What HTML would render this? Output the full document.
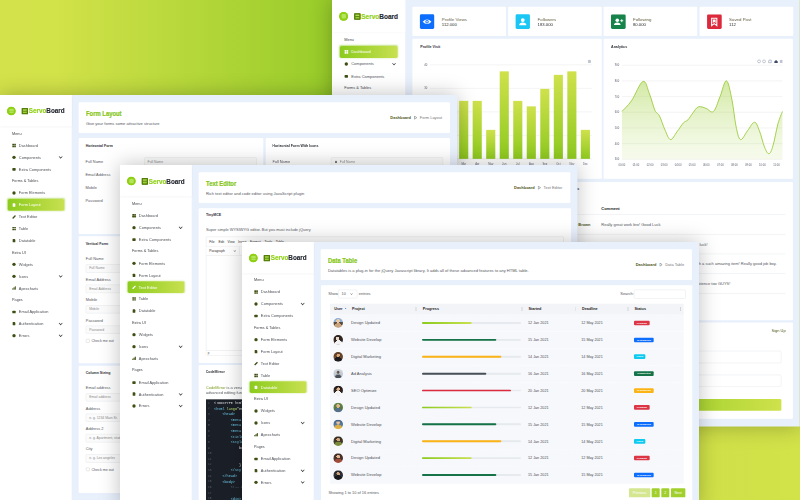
<!DOCTYPE html>
<html lang="en"><head><meta charset="utf-8"><title>ServoBoard</title>
<style>
*{box-sizing:border-box;margin:0;padding:0}
html,body{width:800px;height:500px;overflow:hidden;font-family:"Liberation Sans",sans-serif}
body{position:relative;font-family:"Liberation Sans",sans-serif;color:#2f2f2f;
 background:linear-gradient(90deg,#d3e24a 0%,#d2e249 7%,#98cc2a 41%,#94ca27 55%,#cfe048 87%,#d2e249 100%)}
.pn{position:absolute;transform:scale(0.333333);transform-origin:0 0;background:#e8f0fc;overflow:hidden;
 box-shadow:0 0 58px rgba(0,0,0,.25);font-size:11.7px}
.sb{position:absolute;left:0;top:0;width:215px;bottom:0;background:#fff}
.sbh{position:absolute;left:0;top:0;width:215px;height:94px;background:#fff;box-shadow:0 2px 6px rgba(0,0,0,.05)}
.tog{position:absolute;left:21.4px;top:34.5px;width:26px;height:26px;border-radius:50%;background:#8fd014;
 box-shadow:inset 0 0 0 3px #8fd014}
.tog:before{content:"";position:absolute;left:6.5px;top:6.5px;width:13px;height:13px;border-radius:3px;
 background:repeating-linear-gradient(180deg,#b4e45e 0 3.3px,#a2da3c 3.3px 4.4px)}
.lgi{position:absolute;left:65px;top:38.5px;width:19px;height:19.5px;border-radius:2px;background:#5d8a10;
 box-shadow:inset 0 0 0 2.5px #4f7a0c}
.lgi:before{content:"";position:absolute;left:4px;top:4px;width:11px;height:4px;background:#b5dc50}
.lgi:after{content:"";position:absolute;left:4px;top:11px;width:11px;height:4.5px;background:#9fd032}
.lgt{position:absolute;left:85.5px;top:34px;height:28px;line-height:28px;font-size:22.4px;font-weight:bold;color:#23262e;-webkit-text-stroke:.45px;white-space:nowrap;transform:scaleX(.85);transform-origin:0 50%}
.lgt b{color:#8fd014}
.mn{position:absolute;left:0;top:96.6px;width:215px}
.mn div{position:relative;height:35.7px;line-height:35.7px;white-space:nowrap;color:#505258;font-size:11.7px}
.mn .lab{padding-left:36px;color:#44464c;font-size:11.4px}
.mn .it{padding-left:56.5px}
.mn .it i{position:absolute;left:37px;top:12.8px;width:10px;height:10px;background:#3e4f14;border-radius:2px}
.mn .it i.c{border-radius:50%}
.mn .it i.g{background:none;border-radius:0}
.mn .it i.g:before{content:"";position:absolute;left:0;top:0;width:4.5px;height:4.5px;border-radius:.8px;background:#3e4f14;box-shadow:5.6px 0 0 #3e4f14,0 5.6px 0 #3e4f14,5.6px 5.6px 0 #3e4f14}
.mn .it i.b{height:8px;top:14.5px;border-radius:2px}
.mn .it i.d{width:8px;left:38px;border-radius:1.5px 3px 1.5px 1.5px}
.mn .it i.p{background:none;border-radius:0}
.mn .it i.p:before{content:"";position:absolute;left:-1px;top:3.5px;width:12px;height:3.5px;background:#3e4f14;transform:rotate(-45deg);border-radius:1px}
.mn .it i.h{background:none;border-radius:0}
.mn .it i.h:before{content:"";position:absolute;left:0;bottom:0;width:2.5px;height:4px;background:#3e4f14;box-shadow:3.7px -3px 0 #3e4f14,3.7px 0 0 #3e4f14,7.4px -6px 0 #3e4f14,7.4px -3px 0 #3e4f14,7.4px 0 0 #3e4f14}
.mn .ch:after{content:"";position:absolute;left:178px;top:12px;width:6px;height:6px;border-right:2px solid #333;border-bottom:2px solid #333;transform:rotate(45deg)}
.mn .act{color:#fff}
.mn .act:before{content:"";position:absolute;left:22.5px;top:0.4px;width:170.5px;height:34.9px;border-radius:5px;
 background:linear-gradient(90deg,#8ccb1e,#c8e050);box-shadow:0 0 5px rgba(140,203,30,.55);z-index:0}
.mn .act span,.mn .act i{z-index:1}
.mn .act span{position:relative}
.mn .act i{background:#fff !important}
.mn .act i.p:before,.mn .act i.h:before{background:#fff}
.mn .act i.g{background:none !important}
.mn .act i.g:before{background:#fff;box-shadow:5.6px 0 0 #fff,0 5.6px 0 #fff,5.6px 5.6px 0 #fff}
.mn .act i.p,.mn .act i.h{background:none !important}
.mc{position:absolute;left:215px;top:0;right:0;bottom:0}
.cd{position:absolute;background:#fff;border-radius:3px}
.ttl{position:absolute;font-weight:bold;color:#86c718;-webkit-text-stroke:.7px #86c718;font-size:22.3px;line-height:30px;white-space:nowrap;transform:scaleX(.79);transform-origin:0 50%;letter-spacing:0}
.sub{position:absolute;font-size:12.1px;line-height:16px;color:#55575d;white-space:nowrap}
.bc{position:absolute;font-size:11.9px;line-height:16px;white-space:nowrap;color:#777;text-align:right}
.bc b{color:#4b5516}
.bc u{text-decoration:none;display:inline-block;width:0;height:0;border-left:7.5px solid #7d7d7d;border-top:4.6px solid transparent;border-bottom:4.6px solid transparent;margin:0 8.5px 0 9px;position:relative;top:1px}
.h4{position:absolute;font-weight:bold;font-size:12.4px;line-height:16px;color:#2e3036;white-space:nowrap;transform:scaleX(.86);transform-origin:0 50%}
.t{position:absolute;white-space:nowrap;line-height:16px;font-size:11.7px;color:#55575d}
.tt{position:absolute;white-space:nowrap;line-height:16px;font-size:11.2px;color:#4c4e54}
.in{position:absolute;border:1px solid #dadde2;border-radius:3.5px;background:#fbfbfc;font-size:10.2px;color:#8b8b8b;line-height:22px;padding-left:9px;white-space:nowrap;overflow:hidden}
.cb{position:absolute;width:10.5px;height:10.5px;border:1px solid #bdbdbd;border-radius:2.5px;background:#fff}
</style></head>
<body>
<div class="pn" style="left:332.4px;top:0px;width:1372.6px;height:1251.96px;z-index:1;transform:scale(0.34067);"><div class="cd" style="left:235.86px;top:20.25px;width:274.76px;height:86.15px;"></div><div style="position:absolute;left:257.88px;top:42.27px;width:42.56px;height:42.56px;background:#0d6efd;border-radius:4px"></div><svg style="position:absolute;left:279.16px;top:63.55px;overflow:visible" width="2.9354" height="2.9354" viewBox="0 0 1 1"><g><path d="M-4.4,0 Q0,-4.6 4.4,0 Q0,4.6 -4.4,0Z" fill="#fff"/><circle r="1.7" fill="#0d6efd"/><circle r=".8" fill="#fff"/></g></svg><div class="t" style="left:322.46px;top:49.5342px;font-size:12.8px;color:#5f5a3c">Profile Views</div><div class="t" style="left:322.46px;top:63.9178px;font-size:12.4px;color:#2a2a2a">112.000</div><div class="cd" style="left:516.93px;top:20.25px;width:274.76px;height:86.15px;"></div><div style="position:absolute;left:538.94px;top:42.27px;width:42.56px;height:42.56px;background:#1ac6f4;border-radius:4px"></div><svg style="position:absolute;left:560.23px;top:63.55px;overflow:visible" width="2.9354" height="2.9354" viewBox="0 0 1 1"><g><circle cy="-1.7" r="1.9" fill="#fff"/><path d="M-3.6,3.4 Q-3.6,0.6 0,0.6 Q3.6,0.6 3.6,3.4Z" fill="#fff"/></g></svg><div class="t" style="left:603.52px;top:49.5342px;font-size:12.8px;color:#5f5a3c">Followers</div><div class="t" style="left:603.52px;top:63.9178px;font-size:12.4px;color:#2a2a2a">183.000</div><div class="cd" style="left:796.97px;top:20.25px;width:274.76px;height:86.15px;"></div><div style="position:absolute;left:818.98px;top:42.27px;width:42.56px;height:42.56px;background:#15834a;border-radius:4px"></div><svg style="position:absolute;left:840.26px;top:63.55px;overflow:visible" width="2.9354" height="2.9354" viewBox="0 0 1 1"><g><circle cx="-0.9" cy="-1.5" r="1.8" fill="#fff"/><path d="M-4.2,3.2 Q-4.2,0.6 -0.9,0.6 Q2.4,0.6 2.4,3.2Z" fill="#fff"/><path d="M3.6,-2.6v3M2.1,-1.1h3" stroke="#fff" stroke-width=".9" fill="none"/></g></svg><div class="t" style="left:883.56px;top:49.5342px;font-size:12.8px;color:#5f5a3c">Following</div><div class="t" style="left:883.56px;top:63.9178px;font-size:12.4px;color:#2a2a2a">80.000</div><div class="cd" style="left:1079.06px;top:20.25px;width:274.76px;height:86.15px;"></div><div style="position:absolute;left:1101.08px;top:42.27px;width:42.56px;height:42.56px;background:#dc2a3c;border-radius:4px"></div><svg style="position:absolute;left:1122.36px;top:63.55px;overflow:visible" width="2.9354" height="2.9354" viewBox="0 0 1 1"><g><path d="M-2.6,-3.6h5.2v7.4l-2.6,-2l-2.6,2Z" fill="none" stroke="#fff" stroke-width="1.1"/><path d="M-1.4,-2.4h2.8v3.6l-1.4,-1l-1.4,1Z" fill="#fff"/></g></svg><div class="t" style="left:1165.66px;top:49.5342px;font-size:12.8px;color:#5f5a3c">Saved Post</div><div class="t" style="left:1165.66px;top:63.9178px;font-size:12.4px;color:#2a2a2a">112</div><div class="cd" style="left:235.86px;top:114.48px;width:556.41px;height:410.96px;"></div><div class="cd" style="left:796.97px;top:114.48px;width:555.97px;height:410.96px;"></div><div class="h4" style="left:258.61px;top:128.791px;">Profile Visit</div><div class="h4" style="left:819.28px;top:128.791px;">Analytics</div><svg style="position:absolute;left:198.43px;top:117.42px;font-family:'Liberation Sans',sans-serif" width="1174.17" height="410.96" viewBox="400 40 400 140"><defs><linearGradient id="bg" x1="0" y1="0" x2="0" y2="1"><stop offset="0" stop-color="#cfe14c"/><stop offset="1" stop-color="#8ec91f"/></linearGradient><linearGradient id="ag" x1="0" y1="0" x2="0" y2="1"><stop offset="0" stop-color="#9fd03a" stop-opacity=".46"/><stop offset="1" stop-color="#c9e48e" stop-opacity=".16"/></linearGradient></defs><path d="M430.5,65 H592.5" stroke="#e7e7e7" stroke-width=".45"/><path d="M430.5,88.5 H592.5" stroke="#e7e7e7" stroke-width=".45"/><path d="M430.5,112 H592.5" stroke="#e7e7e7" stroke-width=".45"/><path d="M430.5,135.5 H592.5" stroke="#e7e7e7" stroke-width=".45"/><path d="M430.5,159 H592.5" stroke="#dcdcdc" stroke-width=".4"/><rect x="432.66" y="112" width="9.1" height="47" fill="url(#bg)"/><text x="437.21" y="165" font-size="2.7" fill="#5c6370" text-anchor="middle">Jan</text><rect x="446.18" y="118" width="9.1" height="41" fill="url(#bg)"/><text x="450.73" y="165" font-size="2.7" fill="#5c6370" text-anchor="middle">Feb</text><rect x="459.70" y="101" width="9.1" height="58" fill="url(#bg)"/><text x="464.25" y="165" font-size="2.7" fill="#5c6370" text-anchor="middle">Mar</text><rect x="473.22" y="101" width="9.1" height="58" fill="url(#bg)"/><text x="477.77" y="165" font-size="2.7" fill="#5c6370" text-anchor="middle">Apr</text><rect x="486.74" y="130" width="9.1" height="29" fill="url(#bg)"/><text x="491.29" y="165" font-size="2.7" fill="#5c6370" text-anchor="middle">May</text><rect x="500.26" y="71.5" width="9.1" height="87.5" fill="url(#bg)"/><text x="504.81" y="165" font-size="2.7" fill="#5c6370" text-anchor="middle">Jun</text><rect x="513.78" y="101" width="9.1" height="58" fill="url(#bg)"/><text x="518.33" y="165" font-size="2.7" fill="#5c6370" text-anchor="middle">Jul</text><rect x="527.30" y="106.5" width="9.1" height="52.5" fill="url(#bg)"/><text x="531.85" y="165" font-size="2.7" fill="#5c6370" text-anchor="middle">Aug</text><rect x="540.82" y="89" width="9.1" height="70" fill="url(#bg)"/><text x="545.37" y="165" font-size="2.7" fill="#5c6370" text-anchor="middle">Sep</text><rect x="554.34" y="75" width="9.1" height="84" fill="url(#bg)"/><text x="558.89" y="165" font-size="2.7" fill="#5c6370" text-anchor="middle">Oct</text><rect x="567.86" y="71.5" width="9.1" height="87.5" fill="url(#bg)"/><text x="572.41" y="165" font-size="2.7" fill="#5c6370" text-anchor="middle">Nov</text><rect x="581.38" y="130" width="9.1" height="29" fill="url(#bg)"/><text x="585.93" y="165" font-size="2.7" fill="#5c6370" text-anchor="middle">Dec</text><text x="427.8" y="65.9" font-size="2.8" fill="#5c6370" text-anchor="end">40</text><text x="427.8" y="89.4" font-size="2.8" fill="#5c6370" text-anchor="end">30</text><text x="427.8" y="112.9" font-size="2.8" fill="#5c6370" text-anchor="end">20</text><text x="427.8" y="136.4" font-size="2.8" fill="#5c6370" text-anchor="end">10</text><text x="427.8" y="159.9" font-size="2.8" fill="#5c6370" text-anchor="end">0</text><path d="M588.6,60.6h2.8M588.6,61.6h2.8M588.6,62.6h2.8" stroke="#6e7c96" stroke-width=".45"/><path d="M622.5,65.40 H783" stroke="#e7e7e7" stroke-width=".45"/><text x="619.8" y="66.30" font-size="2.7" fill="#5c6370" text-anchor="end">900</text><path d="M622.5,81.08 H783" stroke="#e7e7e7" stroke-width=".45"/><text x="619.8" y="81.98" font-size="2.7" fill="#5c6370" text-anchor="end">800</text><path d="M622.5,96.76 H783" stroke="#e7e7e7" stroke-width=".45"/><text x="619.8" y="97.66" font-size="2.7" fill="#5c6370" text-anchor="end">700</text><path d="M622.5,112.44 H783" stroke="#e7e7e7" stroke-width=".45"/><text x="619.8" y="113.34" font-size="2.7" fill="#5c6370" text-anchor="end">600</text><path d="M622.5,128.12 H783" stroke="#e7e7e7" stroke-width=".45"/><text x="619.8" y="129.02" font-size="2.7" fill="#5c6370" text-anchor="end">500</text><path d="M622.5,143.80 H783" stroke="#e7e7e7" stroke-width=".45"/><text x="619.8" y="144.70" font-size="2.7" fill="#5c6370" text-anchor="end">400</text><path d="M622.5,159.48 H783" stroke="#e7e7e7" stroke-width=".45"/><text x="619.8" y="160.38" font-size="2.7" fill="#5c6370" text-anchor="end">300</text><path d="M622.50,111.60 C624.21,109.69 628.22,106.40 632.00,101.00 C635.78,95.60 640.26,82.86 643.50,81.60 C646.74,80.34 647.84,88.80 650.00,94.00 C652.16,99.20 653.70,106.54 655.50,110.50 C657.30,114.46 658.20,112.49 660.00,116.00 C661.80,119.51 663.52,125.73 665.50,130.00 C667.48,134.27 668.84,139.34 671.00,139.70 C673.16,140.06 675.16,135.01 677.50,132.00 C679.84,128.99 682.02,125.16 684.00,123.00 C685.98,120.84 686.79,121.80 688.50,120.00 C690.21,118.20 691.61,115.34 693.50,113.00 C695.39,110.66 696.66,107.81 699.00,107.00 C701.34,106.19 703.80,107.67 706.50,108.50 C709.20,109.33 711.48,113.67 714.00,111.60 C716.52,109.53 718.16,102.51 720.50,97.00 C722.84,91.49 724.84,80.46 727.00,81.00 C729.16,81.54 730.79,91.90 732.50,100.00 C734.21,108.10 734.97,118.85 736.50,126.00 C738.03,133.15 738.93,138.80 741.00,139.70 C743.07,140.60 745.48,134.11 748.00,131.00 C750.52,127.89 752.84,122.40 755.00,122.40 C757.16,122.40 758.20,126.57 760.00,131.00 C761.80,135.43 763.31,142.90 765.00,147.00 C766.69,151.10 767.87,153.98 769.40,153.80 C770.93,153.62 771.86,151.36 773.50,146.00 C775.14,140.64 776.79,130.19 778.50,124.00 C780.21,117.81 782.19,113.83 783.00,111.60 L783,159.5 L622.5,159.5Z" fill="url(#ag)"/><path d="M622.50,111.60 C624.21,109.69 628.22,106.40 632.00,101.00 C635.78,95.60 640.26,82.86 643.50,81.60 C646.74,80.34 647.84,88.80 650.00,94.00 C652.16,99.20 653.70,106.54 655.50,110.50 C657.30,114.46 658.20,112.49 660.00,116.00 C661.80,119.51 663.52,125.73 665.50,130.00 C667.48,134.27 668.84,139.34 671.00,139.70 C673.16,140.06 675.16,135.01 677.50,132.00 C679.84,128.99 682.02,125.16 684.00,123.00 C685.98,120.84 686.79,121.80 688.50,120.00 C690.21,118.20 691.61,115.34 693.50,113.00 C695.39,110.66 696.66,107.81 699.00,107.00 C701.34,106.19 703.80,107.67 706.50,108.50 C709.20,109.33 711.48,113.67 714.00,111.60 C716.52,109.53 718.16,102.51 720.50,97.00 C722.84,91.49 724.84,80.46 727.00,81.00 C729.16,81.54 730.79,91.90 732.50,100.00 C734.21,108.10 734.97,118.85 736.50,126.00 C738.03,133.15 738.93,138.80 741.00,139.70 C743.07,140.60 745.48,134.11 748.00,131.00 C750.52,127.89 752.84,122.40 755.00,122.40 C757.16,122.40 758.20,126.57 760.00,131.00 C761.80,135.43 763.31,142.90 765.00,147.00 C766.69,151.10 767.87,153.98 769.40,153.80 C770.93,153.62 771.86,151.36 773.50,146.00 C775.14,140.64 776.79,130.19 778.50,124.00 C780.21,117.81 782.19,113.83 783.00,111.60" fill="none" stroke="#9ccc3c" stroke-width=".9"/><text x="622.50" y="165.8" font-size="2.7" fill="#5c6370" text-anchor="middle">00:00</text><text x="636.55" y="165.8" font-size="2.7" fill="#5c6370" text-anchor="middle">01:00</text><text x="650.60" y="165.8" font-size="2.7" fill="#5c6370" text-anchor="middle">02:00</text><text x="664.65" y="165.8" font-size="2.7" fill="#5c6370" text-anchor="middle">03:00</text><text x="678.70" y="165.8" font-size="2.7" fill="#5c6370" text-anchor="middle">04:00</text><text x="692.75" y="165.8" font-size="2.7" fill="#5c6370" text-anchor="middle">05:00</text><text x="706.80" y="165.8" font-size="2.7" fill="#5c6370" text-anchor="middle">06:00</text><text x="720.85" y="165.8" font-size="2.7" fill="#5c6370" text-anchor="middle">07:00</text><text x="734.90" y="165.8" font-size="2.7" fill="#5c6370" text-anchor="middle">08:00</text><text x="748.95" y="165.8" font-size="2.7" fill="#5c6370" text-anchor="middle">09:00</text><text x="763.00" y="165.8" font-size="2.7" fill="#5c6370" text-anchor="middle">10:00</text><text x="777.05" y="165.8" font-size="2.7" fill="#5c6370" text-anchor="middle">11:00</text><circle cx="759.6" cy="61.5" r="1.45" fill="none" stroke="#6e7c96" stroke-width=".4"/><circle cx="764.6" cy="61.5" r="1.45" fill="none" stroke="#6e7c96" stroke-width=".4"/><path d="M769.6,60.2h2.2v2.6h-2.6v-1.6Z" fill="none" stroke="#6e7c96" stroke-width=".45"/><path d="M774.9,61.6l1.7,-1.5l1.7,1.5v1.5h-3.4Z" fill="#3d4a66"/><path d="M780.4,60.6h2.6M780.4,61.6h2.6M780.4,62.6h2.6" stroke="#6e7c96" stroke-width=".45"/></svg><div class="cd" style="left:235.86px;top:534.25px;width:1117.07px;height:405.68px;"></div><div class="h4" style="right:646.97px;top:546.501px;transform-origin:100% 50%">Latest Comments</div><div class="t" style="left:790.51px;top:602.568px;font-weight:bold;color:#222">Comment</div><div class="t" style="left:258.61px;top:602.568px;font-weight:bold;color:#222">Name</div><div style="position:absolute;left:258.61px;top:628.86px;width:1072.02px;height:1px;background:#dcdfe4"></div><div style="position:absolute;left:258.61px;top:687.56px;width:1072.02px;height:1px;background:#dcdfe4"></div><div style="position:absolute;left:258.61px;top:744.8px;width:1072.02px;height:1px;background:#dcdfe4"></div><div style="position:absolute;left:258.61px;top:802.63px;width:1072.02px;height:1px;background:#dcdfe4"></div><div style="position:absolute;left:258.61px;top:860.75px;width:1072.02px;height:1px;background:#dcdfe4"></div><div class="t" style="right:614.09px;top:651.295px;color:#4c5a1c;font-weight:bold;font-size:11.4px">Emily Brown</div><div class="t" style="left:790.51px;top:651.295px;">Really great work bro! Good Luck</div><div class="t" style="right:270.06px;top:709.71px;">Wow amazing design! Can you make another tutorial for this design? Good luck!</div><div class="t" style="right:67.51px;top:767.245px;">Your design is so amazing, I am so glad to work with a such amazing item! Really good job boy.</div><div class="t" style="right:203.42px;top:825.072px;">Wow amazing design! Thanks for your patience too GUYS!</div><div class="cd" style="left:796.97px;top:947.26px;width:555.97px;height:282.09px;"></div><div class="t" style="right:41.1px;top:962.157px;color:#4c5a1c">Sign Up</div><div style="position:absolute;left:817.81px;top:1030.33px;width:501.08px;height:35.23px;border:1px solid #dcdfe4;border-radius:4px;background:#fff"></div><div style="position:absolute;left:817.81px;top:1099.9px;width:501.08px;height:35.23px;border:1px solid #dcdfe4;border-radius:4px;background:#fff"></div><div style="position:absolute;left:817.81px;top:1171.23px;width:501.08px;height:34.64px;border-radius:4px;background:linear-gradient(90deg,#84c51a,#cfe24b)"></div><div class="cd" style="left:235.86px;top:947.26px;width:556.41px;height:282.09px;"></div><div class="sb"><div class="mn" style="top:98.7px"><div class="lab">Menu</div><div class="it act"><i class="g"></i><span>Dashboard</span></div><div class="it ch"><i class="c"></i><span>Components</span></div><div class="it"><i class="b"></i><span>Extra Components</span></div><div class="lab">Forms &amp; Tables</div><div class="it"><i class="c"></i><span>Form Elements</span></div><div class="it"><i class="d"></i><span>Form Layout</span></div><div class="it"><i class="p"></i><span>Text Editor</span></div><div class="it"><i class="g"></i><span>Table</span></div><div class="it"><i class="d"></i><span>Datatable</span></div><div class="lab">Extra UI</div><div class="it"><i class="c"></i><span>Widgets</span></div><div class="it ch"><i class="c"></i><span>Icons</span></div><div class="it"><i class="h"></i><span>Apexcharts</span></div><div class="lab">Pages</div><div class="it"><i class="b"></i><span>Email Application</span></div><div class="it ch"><i class="d"></i><span>Authentication</span></div><div class="it ch"><i class="c"></i><span>Errors</span></div></div><div class="sbh" style="padding-top:0"><span class="tog" style="margin-top:0.3px"></span><span class="lgi" style="margin-top:0.3px"></span><span class="lgt" style="margin-top:0.3px"><b>Servo</b>Board</span></div></div></div>
<div class="pn" style="left:0px;top:95px;width:1371px;height:1230px;z-index:2;"><div class="cd" style="left:236.1px;top:22.2px;width:1113.9px;height:91.8px;"></div><div class="ttl" style="left:257.7px;top:40.5px;">Form Layout</div><div class="sub" style="left:257.7px;top:77.5px;">Give your forms some attractive structure</div><div class="bc" style="right:44.7px;top:60.1px;"><b>Dashboard</b><svg width="10" height="12" viewBox="0 0 10 12" style="margin:0 8px 0 8.5px;vertical-align:-1.5px"><path d="M1.5,1.2 L8.6,6 L1.5,10.8Z" fill="none" stroke="#6f737b" stroke-width="1.7"/></svg>Form Layout</div><div class="cd" style="left:236.1px;top:129px;width:553.5px;height:288px;"></div><div class="h4" style="left:256.5px;top:143.5px;">Horizontal Form</div><div class="t" style="left:256.5px;top:192.25px;">Full Name</div><div class="in" style="left:432.75px;top:187.35px;width:336.75px;height:25.8px;line-height:23.8px">Full Name</div><div class="t" style="left:256.5px;top:230.5px;">Email Address</div><div class="in" style="left:432.75px;top:225.6px;width:336.75px;height:25.8px;line-height:23.8px">Email Address</div><div class="t" style="left:256.5px;top:269.5px;">Mobile</div><div class="in" style="left:432.75px;top:264.6px;width:336.75px;height:25.8px;line-height:23.8px">Mobile</div><div class="t" style="left:256.5px;top:308.5px;">Password</div><div class="in" style="left:432.75px;top:303.6px;width:336.75px;height:25.8px;line-height:23.8px">Password</div><div class="cd" style="left:797.4px;top:129px;width:552.6px;height:288px;"></div><div class="h4" style="left:817.2px;top:143.2px;">Horizontal Form With Icons</div><div class="t" style="left:817.2px;top:192.25px;">Full Name</div><div class="in" style="left:993px;top:187.35px;width:336px;height:25.8px;line-height:23.8px"><span style="display:inline-block;width:6px;height:7px;background:#777;border-radius:3px 3px 1px 1px;margin:0 8px 0 2px;vertical-align:-1px"></span>Full Name</div><div class="t" style="left:817.2px;top:230.5px;">Email Address</div><div class="in" style="left:993px;top:225.6px;width:336px;height:25.8px;line-height:23.8px"><span style="display:inline-block;width:6px;height:7px;background:#777;border-radius:3px 3px 1px 1px;margin:0 8px 0 2px;vertical-align:-1px"></span>Email Address</div><div class="t" style="left:817.2px;top:269.5px;">Mobile</div><div class="in" style="left:993px;top:264.6px;width:336px;height:25.8px;line-height:23.8px"><span style="display:inline-block;width:6px;height:7px;background:#777;border-radius:3px 3px 1px 1px;margin:0 8px 0 2px;vertical-align:-1px"></span>Mobile</div><div class="t" style="left:817.2px;top:308.5px;">Password</div><div class="in" style="left:993px;top:303.6px;width:336px;height:25.8px;line-height:23.8px"><span style="display:inline-block;width:6px;height:7px;background:#777;border-radius:3px 3px 1px 1px;margin:0 8px 0 2px;vertical-align:-1px"></span>Password</div><div class="cd" style="left:236.1px;top:424.2px;width:553.5px;height:380.7px;"></div><div class="h4" style="left:257.4px;top:439px;">Vertical Form</div><div class="t" style="left:257.4px;top:484px;">Full Name</div><div class="in" style="left:257.4px;top:508.2px;width:512.1px;height:24.6px;line-height:22.6px">Full Name</div><div class="t" style="left:257.4px;top:545.2px;">Email Address</div><div class="in" style="left:257.4px;top:569.4px;width:512.1px;height:24.6px;line-height:22.6px">Email Address</div><div class="t" style="left:257.4px;top:606.4px;">Mobile</div><div class="in" style="left:257.4px;top:630.6px;width:512.1px;height:24.6px;line-height:22.6px">Mobile</div><div class="t" style="left:257.4px;top:667.6px;">Password</div><div class="in" style="left:257.4px;top:691.8px;width:512.1px;height:24.6px;line-height:22.6px">Password</div><div class="cb" style="left:258px;top:732.15px"></div><div class="t" style="left:274.5px;top:729.4px;font-size:10.8px">Check me out</div><div class="cd" style="left:236.1px;top:811.8px;width:1113.9px;height:382.2px;"></div><div class="h4" style="left:257.4px;top:825.4px;">Column Sizing</div><div class="t" style="left:257.4px;top:870.4px;">Email address</div><div class="in" style="left:257.4px;top:894.6px;width:1071.6px;height:24.6px;line-height:22.6px">Email address</div><div class="t" style="left:257.4px;top:931.6px;">Address</div><div class="in" style="left:257.4px;top:955.8px;width:1071.6px;height:24.6px;line-height:22.6px">e. g. 1234 Main St.</div><div class="t" style="left:257.4px;top:992.8px;">Address 2</div><div class="in" style="left:257.4px;top:1017px;width:1071.6px;height:24.6px;line-height:22.6px">e. g. Apartment, studio, or floor</div><div class="t" style="left:257.4px;top:1054px;">City</div><div class="in" style="left:257.4px;top:1078.2px;width:1071.6px;height:24.6px;line-height:22.6px">e. g. Los angeles</div><div class="cb" style="left:258px;top:1117.65px"></div><div class="t" style="left:274.5px;top:1114.9px;font-size:10.8px">Check me out</div><div class="sb"><div class="mn" style="top:97.65px"><div class="lab">Menu</div><div class="it"><i class="g"></i><span>Dashboard</span></div><div class="it ch"><i class="c"></i><span>Components</span></div><div class="it"><i class="b"></i><span>Extra Components</span></div><div class="lab">Forms &amp; Tables</div><div class="it"><i class="c"></i><span>Form Elements</span></div><div class="it act"><i class="d"></i><span>Form Layout</span></div><div class="it"><i class="p"></i><span>Text Editor</span></div><div class="it"><i class="g"></i><span>Table</span></div><div class="it"><i class="d"></i><span>Datatable</span></div><div class="lab">Extra UI</div><div class="it"><i class="c"></i><span>Widgets</span></div><div class="it ch"><i class="c"></i><span>Icons</span></div><div class="it"><i class="h"></i><span>Apexcharts</span></div><div class="lab">Pages</div><div class="it"><i class="b"></i><span>Email Application</span></div><div class="it ch"><i class="d"></i><span>Authentication</span></div><div class="it ch"><i class="c"></i><span>Errors</span></div></div><div class="sbh" style="padding-top:0"><span class="tog" style="margin-top:0px"></span><span class="lgi" style="margin-top:0px"></span><span class="lgt" style="margin-top:0px"><b>Servo</b>Board</span></div></div></div>
<div class="pn" style="left:119.5px;top:164.9px;width:1371.6px;height:1035px;z-index:3;"><div class="cd" style="left:236.1px;top:22.2px;width:1114.5px;height:91.8px;"></div><div class="ttl" style="left:257.7px;top:40.5px;">Text Editor</div><div class="sub" style="left:257.7px;top:77.5px;">Rich text editor and code editor using JavaScript plugin</div><div class="bc" style="right:44.7px;top:60.1px;"><b>Dashboard</b><svg width="10" height="12" viewBox="0 0 10 12" style="margin:0 8px 0 8.5px;vertical-align:-1.5px"><path d="M1.5,1.2 L8.6,6 L1.5,10.8Z" fill="none" stroke="#6f737b" stroke-width="1.7"/></svg>Text Editor</div><div class="cd" style="left:236.1px;top:129.9px;width:1116.9px;height:463.8px;"></div><div class="h4" style="left:258px;top:142px;">TinyMCE</div><div class="t" style="left:258px;top:187.3px;">Super simple WYSIWYG editor. But you must include jQuery</div><div style="position:absolute;left:257.7px;top:215.4px;width:1073.7px;height:356.7px;border:1px solid #d4d4d4;border-radius:3px;background:#fff"></div><div style="position:absolute;left:258.6px;top:243.3px;width:1071.9px;height:28.2px;border-top:1px solid #e4e4e4;border-bottom:1px solid #d9d9d9;background:#fff"></div><div style="position:absolute;left:258.6px;top:555.9px;width:1071.9px;height:15.3px;border-top:1px solid #d9d9d9;background:#fff"></div><div class="t" style="left:267.9px;top:221.8px;font-size:10px;color:#333">File</div><div class="t" style="left:295.5px;top:221.8px;font-size:10px;color:#333">Edit</div><div class="t" style="left:322.8px;top:221.8px;font-size:10px;color:#333">View</div><div class="t" style="left:354.3px;top:221.8px;font-size:10px;color:#333">Insert</div><div class="t" style="left:390.3px;top:221.8px;font-size:10px;color:#333">Format</div><div class="t" style="left:433.5px;top:221.8px;font-size:10px;color:#333">Tools</div><div class="t" style="left:467.4px;top:221.8px;font-size:10px;color:#333">Table</div><div class="t" style="left:267.9px;top:249.7px;font-size:10px;color:#333">Paragraph</div><div style="position:absolute;left:342.3px;top:254.1px;width:5px;height:5px;border-right:1.4px solid #444;border-bottom:1.4px solid #444;transform:rotate(45deg)"></div><div style="position:absolute;left:356.7px;top:246.3px;width:0.9px;height:22.8px;background:#ddd"></div><div class="t" style="left:263.4px;top:555.7px;font-size:9px;color:#555">p</div><div class="cd" style="left:236.1px;top:599.7px;width:1116.9px;height:465.6px;"></div><div class="h4" style="left:257.4px;top:613.3px;">CodeMirror</div><div class="t" style="left:258px;top:658.9px;"><span style="color:#7a9a1c">CodeMirror</span> is a versatile text editor implemented in JavaScript for the browser. It is specialized for editing code, and comes with a number of language modes and addons that implement more</div><div class="t" style="left:258px;top:676.3px;">advanced editing functionality.</div><div style="position:absolute;left:258.3px;top:703.2px;width:1073.1px;height:362.1px;background:#1b1f27"></div><div class="t" style="left:264.3px;top:706px;font-size:8.5px;color:#596170;font-family:'Liberation Mono',monospace">1</div><div class="t" style="left:282.3px;top:706px;font-size:10.4px;font-family:'Liberation Mono',monospace;white-space:pre"><span style="color:#e8e8e8">&lt;!DOCTYPE html&gt;</span></div><div class="t" style="left:264.3px;top:722.86px;font-size:8.5px;color:#596170;font-family:'Liberation Mono',monospace">2</div><div class="t" style="left:282.3px;top:722.86px;font-size:10.4px;font-family:'Liberation Mono',monospace;white-space:pre"><span style="color:#6fd3f2">&lt;html</span><span style="color:#b6e06a"> lang=</span><span style="color:#e8e8e8">"en"</span><span style="color:#6fd3f2">&gt;</span></div><div class="t" style="left:264.3px;top:739.72px;font-size:8.5px;color:#596170;font-family:'Liberation Mono',monospace">3</div><div class="t" style="left:307.26px;top:739.72px;font-size:10.4px;font-family:'Liberation Mono',monospace;white-space:pre"><span style="color:#6fd3f2">&lt;head&gt;</span></div><div class="t" style="left:264.3px;top:756.58px;font-size:8.5px;color:#596170;font-family:'Liberation Mono',monospace">4</div><div class="t" style="left:332.22px;top:756.58px;font-size:10.4px;font-family:'Liberation Mono',monospace;white-space:pre"><span style="color:#6fd3f2">&lt;meta</span><span style="color:#b6e06a"> charset=</span><span style="color:#e8e8e8">"UTF-8"</span><span style="color:#6fd3f2">&gt;</span></div><div class="t" style="left:264.3px;top:773.44px;font-size:8.5px;color:#596170;font-family:'Liberation Mono',monospace">5</div><div class="t" style="left:332.22px;top:773.44px;font-size:10.4px;font-family:'Liberation Mono',monospace;white-space:pre"><span style="color:#6fd3f2">&lt;meta</span><span style="color:#b6e06a"> name=</span><span style="color:#e8e8e8">"viewport"</span><span style="color:#6fd3f2">&gt;</span></div><div class="t" style="left:264.3px;top:790.3px;font-size:8.5px;color:#596170;font-family:'Liberation Mono',monospace">6</div><div class="t" style="left:332.22px;top:790.3px;font-size:10.4px;font-family:'Liberation Mono',monospace;white-space:pre"><span style="color:#6fd3f2">&lt;meta</span><span style="color:#b6e06a"> content=</span><span style="color:#e8e8e8">"IE=edge"</span><span style="color:#6fd3f2">&gt;</span></div><div class="t" style="left:264.3px;top:807.16px;font-size:8.5px;color:#596170;font-family:'Liberation Mono',monospace">7</div><div class="t" style="left:332.22px;top:807.16px;font-size:10.4px;font-family:'Liberation Mono',monospace;white-space:pre"><span style="color:#6fd3f2">&lt;title&gt;</span><span style="color:#e8e8e8">Document</span><span style="color:#6fd3f2">&lt;/title&gt;</span></div><div class="t" style="left:264.3px;top:824.02px;font-size:8.5px;color:#596170;font-family:'Liberation Mono',monospace">8</div><div class="t" style="left:332.22px;top:824.02px;font-size:10.4px;font-family:'Liberation Mono',monospace;white-space:pre"><span style="color:#6fd3f2">&lt;style&gt;</span></div><div class="t" style="left:264.3px;top:840.88px;font-size:8.5px;color:#596170;font-family:'Liberation Mono',monospace">9</div><div class="t" style="left:357.18px;top:840.88px;font-size:10.4px;font-family:'Liberation Mono',monospace;white-space:pre"><span style="color:#e8e8e8">body {</span></div><div class="t" style="left:264.3px;top:857.74px;font-size:8.5px;color:#596170;font-family:'Liberation Mono',monospace">10</div><div class="t" style="left:382.14px;top:857.74px;font-size:10.4px;font-family:'Liberation Mono',monospace;white-space:pre"><span style="color:#6d7480"> </span></div><div class="t" style="left:264.3px;top:874.6px;font-size:8.5px;color:#596170;font-family:'Liberation Mono',monospace">11</div><div class="t" style="left:382.14px;top:874.6px;font-size:10.4px;font-family:'Liberation Mono',monospace;white-space:pre"><span style="color:#6d7480"> </span></div><div class="t" style="left:264.3px;top:891.46px;font-size:8.5px;color:#596170;font-family:'Liberation Mono',monospace">12</div><div class="t" style="left:357.18px;top:891.46px;font-size:10.4px;font-family:'Liberation Mono',monospace;white-space:pre"><span style="color:#e8e8e8">}</span></div><div class="t" style="left:264.3px;top:908.32px;font-size:8.5px;color:#596170;font-family:'Liberation Mono',monospace">13</div><div class="t" style="left:332.22px;top:908.32px;font-size:10.4px;font-family:'Liberation Mono',monospace;white-space:pre"><span style="color:#6fd3f2">&lt;/style&gt;</span></div><div class="t" style="left:264.3px;top:925.18px;font-size:8.5px;color:#596170;font-family:'Liberation Mono',monospace">14</div><div class="t" style="left:307.26px;top:925.18px;font-size:10.4px;font-family:'Liberation Mono',monospace;white-space:pre"><span style="color:#6fd3f2">&lt;/head&gt;</span></div><div class="t" style="left:264.3px;top:942.04px;font-size:8.5px;color:#596170;font-family:'Liberation Mono',monospace">15</div><div class="t" style="left:307.26px;top:942.04px;font-size:10.4px;font-family:'Liberation Mono',monospace;white-space:pre"><span style="color:#6fd3f2">&lt;body&gt;</span></div><div class="t" style="left:264.3px;top:958.9px;font-size:8.5px;color:#596170;font-family:'Liberation Mono',monospace">16</div><div class="t" style="left:332.22px;top:958.9px;font-size:10.4px;font-family:'Liberation Mono',monospace;white-space:pre"><span style="color:#6d7480">&lt;!-- content --&gt;</span></div><div class="t" style="left:264.3px;top:975.76px;font-size:8.5px;color:#596170;font-family:'Liberation Mono',monospace">17</div><div class="t" style="left:282.3px;top:975.76px;font-size:10.4px;font-family:'Liberation Mono',monospace;white-space:pre"><span style="color:#6d7480"> </span></div><div class="t" style="left:264.3px;top:992.62px;font-size:8.5px;color:#596170;font-family:'Liberation Mono',monospace">18</div><div class="t" style="left:332.22px;top:992.62px;font-size:10.4px;font-family:'Liberation Mono',monospace;white-space:pre"><span style="color:#6fd3f2">&lt;div&gt;</span></div><div class="sb"><div class="mn" style="top:98.7px"><div class="lab">Menu</div><div class="it"><i class="g"></i><span>Dashboard</span></div><div class="it ch"><i class="c"></i><span>Components</span></div><div class="it"><i class="b"></i><span>Extra Components</span></div><div class="lab">Forms &amp; Tables</div><div class="it"><i class="c"></i><span>Form Elements</span></div><div class="it"><i class="d"></i><span>Form Layout</span></div><div class="it act"><i class="p"></i><span>Text Editor</span></div><div class="it"><i class="g"></i><span>Table</span></div><div class="it"><i class="d"></i><span>Datatable</span></div><div class="lab">Extra UI</div><div class="it"><i class="c"></i><span>Widgets</span></div><div class="it ch"><i class="c"></i><span>Icons</span></div><div class="it"><i class="h"></i><span>Apexcharts</span></div><div class="lab">Pages</div><div class="it"><i class="b"></i><span>Email Application</span></div><div class="it ch"><i class="d"></i><span>Authentication</span></div><div class="it ch"><i class="c"></i><span>Errors</span></div></div><div class="sbh" style="padding-top:0"><span class="tog" style="margin-top:0.9px"></span><span class="lgi" style="margin-top:0.9px"></span><span class="lgt" style="margin-top:0.9px"><b>Servo</b>Board</span></div></div></div>
<div class="pn" style="left:242px;top:241.8px;width:1371px;height:795px;z-index:4;"><div class="cd" style="left:236.1px;top:22.2px;width:1113.9px;height:91.8px;"></div><div class="ttl" style="left:257.7px;top:40.5px;">Data Table</div><div class="sub" style="left:257.7px;top:77.5px;">Datatables is a plug-in for the jQuery Javascript library. It adds all of these advanced features to any HTML table.</div><div class="bc" style="right:44.7px;top:60.1px;"><b>Dashboard</b><svg width="10" height="12" viewBox="0 0 10 12" style="margin:0 8px 0 8.5px;vertical-align:-1.5px"><path d="M1.5,1.2 L8.6,6 L1.5,10.8Z" fill="none" stroke="#6f737b" stroke-width="1.7"/></svg>Data Table</div><div class="cd" style="left:237px;top:129.6px;width:1113.6px;height:705px;"></div><div class="t" style="left:258.9px;top:148.3px;">Show</div><div style="position:absolute;left:288.9px;top:143.4px;width:57.6px;height:26.1px;border:1px solid #d8dbe0;border-radius:4px;background:#fff"></div><div class="t" style="left:298.8px;top:148.3px;">10</div><div style="position:absolute;left:325.8px;top:151.8px;width:5px;height:5px;border-right:1.5px solid #444;border-bottom:1.5px solid #444;transform:rotate(45deg)"></div><div class="t" style="left:350.4px;top:148.3px;">entries</div><div class="t" style="left:1134.9px;top:148.3px;">Search:</div><div style="position:absolute;left:1176px;top:143.4px;width:154.8px;height:26.7px;border:1px solid #d8dbe0;border-radius:4px;background:#fff"></div><div style="position:absolute;left:264px;top:184.5px;width:1061.1px;height:33.3px;background:#f2f4f7;border-radius:2px 2px 0 0"></div><div class="t" style="left:276.6px;top:193px;font-weight:bold;font-size:11.3px;color:#1f1f1f">User</div><div class="t" style="left:330px;top:193px;font-weight:bold;font-size:11.3px;color:#1f1f1f">Project</div><div class="t" style="left:542.1px;top:193px;font-weight:bold;font-size:11.3px;color:#1f1f1f">Progress</div><div class="t" style="left:859.2px;top:193px;font-weight:bold;font-size:11.3px;color:#1f1f1f">Started</div><div class="t" style="left:1020px;top:193px;font-weight:bold;font-size:11.3px;color:#1f1f1f">Deadline</div><div class="t" style="left:1177.5px;top:193px;font-weight:bold;font-size:11.3px;color:#1f1f1f">Status</div><div style="position:absolute;left:308.7px;top:196.5px;width:0;height:0;border-left:2.2px solid transparent;border-right:2.2px solid transparent;border-bottom:4px solid #2f6df0"></div><div style="position:absolute;left:521.25px;top:195.3px;width:1.5px;height:11.4px;background:#c3c7cd"></div><div style="position:absolute;left:839.25px;top:195.3px;width:1.5px;height:11.4px;background:#c3c7cd"></div><div style="position:absolute;left:998.85px;top:195.3px;width:1.5px;height:11.4px;background:#c3c7cd"></div><div style="position:absolute;left:1157.25px;top:195.3px;width:1.5px;height:11.4px;background:#c3c7cd"></div><div style="position:absolute;left:1315.05px;top:195.3px;width:1.5px;height:11.4px;background:#c3c7cd"></div><div style="position:absolute;left:264px;top:217.8px;width:1061.1px;height:50.7px;background:#f7f8fb;border-top:1.4px dashed #fdfdfe"></div><div style="position:absolute;left:274.2px;top:228.45px;width:28.8px;height:28.8px;border-radius:50%;background:radial-gradient(circle at 50% 30%,#e9c9a8 0 22%,transparent 24%),radial-gradient(circle at 50% 95%,#c9a27e 0 38%,transparent 40%),linear-gradient(180deg,#8fb0d6 0 45%,#5a4a3c 45%)"></div><div class="tt" style="left:327px;top:234.85px;font-size:12.1px">Design Updated</div><div style="position:absolute;left:540px;top:240px;width:297px;height:5.7px;background:#e6e9ed;border-radius:3px"></div><div style="position:absolute;left:540px;top:240px;width:148.5px;height:5.7px;background:linear-gradient(90deg,#8ccb1e,#c8e050);border-radius:3px"></div><div class="tt" style="left:858px;top:234.85px;">12 Jan 2021</div><div class="tt" style="left:1017.6px;top:234.85px;">12 May 2021</div><div style="position:absolute;left:1176px;top:235.8px;width:46.8px;height:14.1px;background:#dc3545;border-radius:3px;color:#fff;font-size:7.6px;font-weight:bold;line-height:14.1px;text-align:center;white-space:nowrap">Pending</div><div style="position:absolute;left:264px;top:268.5px;width:1061.1px;height:50.7px;background:#f7f8fb;border-top:1.4px dashed #fdfdfe"></div><div style="position:absolute;left:274.2px;top:279.15px;width:28.8px;height:28.8px;border-radius:50%;background:radial-gradient(circle at 45% 35%,#e8d7c8 0 20%,transparent 22%),radial-gradient(circle at 55% 90%,#f2f2f2 0 34%,transparent 36%),linear-gradient(180deg,#2b221e,#3a2c26)"></div><div class="tt" style="left:327px;top:285.55px;font-size:12.1px">Website Develop</div><div style="position:absolute;left:540px;top:290.7px;width:297px;height:5.7px;background:#e6e9ed;border-radius:3px"></div><div style="position:absolute;left:540px;top:290.7px;width:222.75px;height:5.7px;background:#157347;border-radius:3px"></div><div class="tt" style="left:858px;top:285.55px;">15 Jan 2021</div><div class="tt" style="left:1017.6px;top:285.55px;">15 May 2021</div><div style="position:absolute;left:1176px;top:286.5px;width:59.4px;height:14.1px;background:#0d6efd;border-radius:3px;color:#fff;font-size:7.6px;font-weight:bold;line-height:14.1px;text-align:center;white-space:nowrap">In progress</div><div style="position:absolute;left:264px;top:319.2px;width:1061.1px;height:50.7px;background:#f7f8fb;border-top:1.4px dashed #fdfdfe"></div><div style="position:absolute;left:274.2px;top:329.85px;width:28.8px;height:28.8px;border-radius:50%;background:radial-gradient(circle at 50% 35%,#d8a77c 0 20%,transparent 22%),radial-gradient(circle at 50% 95%,#1b1b1f 0 40%,transparent 42%),linear-gradient(180deg,#5a3b25,#7a5233)"></div><div class="tt" style="left:327px;top:336.25px;font-size:12.1px">Digital Marketing</div><div style="position:absolute;left:540px;top:341.4px;width:297px;height:5.7px;background:#e6e9ed;border-radius:3px"></div><div style="position:absolute;left:540px;top:341.4px;width:237.6px;height:5.7px;background:#fbb416;border-radius:3px"></div><div class="tt" style="left:858px;top:336.25px;">14 Jan 2021</div><div class="tt" style="left:1017.6px;top:336.25px;">14 May 2021</div><div style="position:absolute;left:1176px;top:337.2px;width:34.2px;height:14.1px;background:#0dcaf0;border-radius:3px;color:#fff;font-size:7.6px;font-weight:bold;line-height:14.1px;text-align:center;white-space:nowrap">Fixed</div><div style="position:absolute;left:264px;top:369.9px;width:1061.1px;height:50.7px;background:#f7f8fb;border-top:1.4px dashed #fdfdfe"></div><div style="position:absolute;left:274.2px;top:380.55px;width:28.8px;height:28.8px;border-radius:50%;background:radial-gradient(circle at 50% 36%,#5a5048 0 18%,transparent 20%),radial-gradient(circle at 50% 100%,#4a4f58 0 34%,transparent 36%),linear-gradient(180deg,#d4d9df,#b4bcc6)"></div><div class="tt" style="left:327px;top:386.95px;font-size:12.1px">Ad Analysis</div><div style="position:absolute;left:540px;top:392.1px;width:297px;height:5.7px;background:#e6e9ed;border-radius:3px"></div><div style="position:absolute;left:540px;top:392.1px;width:193.05px;height:5.7px;background:#4a5058;border-radius:3px"></div><div class="tt" style="left:858px;top:386.95px;">16 Jan 2021</div><div class="tt" style="left:1017.6px;top:386.95px;">16 May 2021</div><div style="position:absolute;left:1176px;top:387.9px;width:59.4px;height:14.1px;background:#157347;border-radius:3px;color:#fff;font-size:7.6px;font-weight:bold;line-height:14.1px;text-align:center;white-space:nowrap">Completed</div><div style="position:absolute;left:264px;top:420.6px;width:1061.1px;height:50.7px;background:#f7f8fb;border-top:1.4px dashed #fdfdfe"></div><div style="position:absolute;left:274.2px;top:431.25px;width:28.8px;height:28.8px;border-radius:50%;background:radial-gradient(circle at 50% 36%,#e0b48e 0 21%,transparent 23%),radial-gradient(circle at 50% 98%,#f4f4f4 0 38%,transparent 40%),linear-gradient(180deg,#1f1a18,#40302a)"></div><div class="tt" style="left:327px;top:437.65px;font-size:12.1px">SEO Optimize</div><div style="position:absolute;left:540px;top:442.8px;width:297px;height:5.7px;background:#e6e9ed;border-radius:3px"></div><div style="position:absolute;left:540px;top:442.8px;width:267.3px;height:5.7px;background:#dc2b3c;border-radius:3px"></div><div class="tt" style="left:858px;top:437.65px;">20 Jan 2021</div><div class="tt" style="left:1017.6px;top:437.65px;">20 May 2021</div><div style="position:absolute;left:1176px;top:438.6px;width:59.4px;height:14.1px;background:#fbb416;border-radius:3px;color:#fff;font-size:7.6px;font-weight:bold;line-height:14.1px;text-align:center;white-space:nowrap">In progress</div><div style="position:absolute;left:264px;top:471.3px;width:1061.1px;height:50.7px;background:#f7f8fb;border-top:1.4px dashed #fdfdfe"></div><div style="position:absolute;left:274.2px;top:481.95px;width:28.8px;height:28.8px;border-radius:50%;background:radial-gradient(circle at 50% 34%,#dfb590 0 21%,transparent 23%),radial-gradient(circle at 50% 96%,#54708c 0 38%,transparent 40%),linear-gradient(180deg,#6b8a4a,#4b6a3a)"></div><div class="tt" style="left:327px;top:488.35px;font-size:12.1px">Design Updated</div><div style="position:absolute;left:540px;top:493.5px;width:297px;height:5.7px;background:#e6e9ed;border-radius:3px"></div><div style="position:absolute;left:540px;top:493.5px;width:148.5px;height:5.7px;background:linear-gradient(90deg,#8ccb1e,#c8e050);border-radius:3px"></div><div class="tt" style="left:858px;top:488.35px;">12 Jan 2021</div><div class="tt" style="left:1017.6px;top:488.35px;">12 May 2021</div><div style="position:absolute;left:1176px;top:489.3px;width:46.8px;height:14.1px;background:#dc3545;border-radius:3px;color:#fff;font-size:7.6px;font-weight:bold;line-height:14.1px;text-align:center;white-space:nowrap">Pending</div><div style="position:absolute;left:264px;top:522px;width:1061.1px;height:50.7px;background:#f7f8fb;border-top:1.4px dashed #fdfdfe"></div><div style="position:absolute;left:274.2px;top:532.65px;width:28.8px;height:28.8px;border-radius:50%;background:radial-gradient(circle at 50% 34%,#e6c19c 0 21%,transparent 23%),radial-gradient(circle at 50% 96%,#e0b040 0 38%,transparent 40%),linear-gradient(180deg,#3f5f8a,#6f8fb0)"></div><div class="tt" style="left:327px;top:539.05px;font-size:12.1px">Website Develop</div><div style="position:absolute;left:540px;top:544.2px;width:297px;height:5.7px;background:#e6e9ed;border-radius:3px"></div><div style="position:absolute;left:540px;top:544.2px;width:222.75px;height:5.7px;background:#157347;border-radius:3px"></div><div class="tt" style="left:858px;top:539.05px;">15 Jan 2021</div><div class="tt" style="left:1017.6px;top:539.05px;">15 May 2021</div><div style="position:absolute;left:1176px;top:540px;width:59.4px;height:14.1px;background:#0d6efd;border-radius:3px;color:#fff;font-size:7.6px;font-weight:bold;line-height:14.1px;text-align:center;white-space:nowrap">In progress</div><div style="position:absolute;left:264px;top:572.7px;width:1061.1px;height:50.7px;background:#f7f8fb;border-top:1.4px dashed #fdfdfe"></div><div style="position:absolute;left:274.2px;top:583.35px;width:28.8px;height:28.8px;border-radius:50%;background:radial-gradient(circle at 50% 34%,#d6a27a 0 21%,transparent 23%),radial-gradient(circle at 50% 96%,#7a8a3a 0 38%,transparent 40%),linear-gradient(180deg,#2f2a22,#4f4a32)"></div><div class="tt" style="left:327px;top:589.75px;font-size:12.1px">Digital Marketing</div><div style="position:absolute;left:540px;top:594.9px;width:297px;height:5.7px;background:#e6e9ed;border-radius:3px"></div><div style="position:absolute;left:540px;top:594.9px;width:237.6px;height:5.7px;background:#fbb416;border-radius:3px"></div><div class="tt" style="left:858px;top:589.75px;">14 Jan 2021</div><div class="tt" style="left:1017.6px;top:589.75px;">14 May 2021</div><div style="position:absolute;left:1176px;top:590.7px;width:34.2px;height:14.1px;background:#0dcaf0;border-radius:3px;color:#fff;font-size:7.6px;font-weight:bold;line-height:14.1px;text-align:center;white-space:nowrap">Fixed</div><div style="position:absolute;left:264px;top:623.4px;width:1061.1px;height:50.7px;background:#f7f8fb;border-top:1.4px dashed #fdfdfe"></div><div style="position:absolute;left:274.2px;top:634.05px;width:28.8px;height:28.8px;border-radius:50%;background:radial-gradient(circle at 50% 34%,#e2b792 0 21%,transparent 23%),radial-gradient(circle at 50% 96%,#a04a3a 0 38%,transparent 40%),linear-gradient(180deg,#3b2a26,#5b3a30)"></div><div class="tt" style="left:327px;top:640.45px;font-size:12.1px">Design Updated</div><div style="position:absolute;left:540px;top:645.6px;width:297px;height:5.7px;background:#e6e9ed;border-radius:3px"></div><div style="position:absolute;left:540px;top:645.6px;width:148.5px;height:5.7px;background:linear-gradient(90deg,#8ccb1e,#c8e050);border-radius:3px"></div><div class="tt" style="left:858px;top:640.45px;">12 Jan 2021</div><div class="tt" style="left:1017.6px;top:640.45px;">12 May 2021</div><div style="position:absolute;left:1176px;top:641.4px;width:46.8px;height:14.1px;background:#dc3545;border-radius:3px;color:#fff;font-size:7.6px;font-weight:bold;line-height:14.1px;text-align:center;white-space:nowrap">Pending</div><div style="position:absolute;left:264px;top:674.1px;width:1061.1px;height:50.7px;background:#f7f8fb;border-top:1.4px dashed #fdfdfe"></div><div style="position:absolute;left:274.2px;top:684.75px;width:28.8px;height:28.8px;border-radius:50%;background:radial-gradient(circle at 50% 34%,#caa07c 0 20%,transparent 22%),radial-gradient(circle at 50% 96%,#16181c 0 40%,transparent 42%),linear-gradient(180deg,#22252b,#383c44)"></div><div class="tt" style="left:327px;top:691.15px;font-size:12.1px">Website Develop</div><div style="position:absolute;left:540px;top:696.3px;width:297px;height:5.7px;background:#e6e9ed;border-radius:3px"></div><div style="position:absolute;left:540px;top:696.3px;width:222.75px;height:5.7px;background:#157347;border-radius:3px"></div><div class="tt" style="left:858px;top:691.15px;">15 Jan 2021</div><div class="tt" style="left:1017.6px;top:691.15px;">15 May 2021</div><div style="position:absolute;left:1176px;top:692.1px;width:59.4px;height:14.1px;background:#0d6efd;border-radius:3px;color:#fff;font-size:7.6px;font-weight:bold;line-height:14.1px;text-align:center;white-space:nowrap">In progress</div><div class="t" style="left:259.5px;top:744.1px;">Showing 1 to 10 of 16 entries</div><div style="position:absolute;left:1161px;top:738.6px;width:63.6px;height:27.6px;background:#d5e690;border-radius:2.5px;color:#fff;font-size:10.6px;line-height:27.6px;text-align:center">Previous</div><div style="position:absolute;left:1228.8px;top:738.6px;width:24.6px;height:27.6px;background:#a1cf2c;border-radius:2.5px;color:#fff;font-size:10.6px;line-height:27.6px;text-align:center">1</div><div style="position:absolute;left:1257.6px;top:738.6px;width:24.6px;height:27.6px;background:#a1cf2c;border-radius:2.5px;color:#fff;font-size:10.6px;line-height:27.6px;text-align:center">2</div><div style="position:absolute;left:1287px;top:738.6px;width:42.6px;height:27.6px;background:#a1cf2c;border-radius:2.5px;color:#fff;font-size:10.6px;line-height:27.6px;text-align:center">Next</div><div class="sb"><div class="mn" style="top:96.75px"><div class="lab">Menu</div><div class="it"><i class="g"></i><span>Dashboard</span></div><div class="it ch"><i class="c"></i><span>Components</span></div><div class="it"><i class="b"></i><span>Extra Components</span></div><div class="lab">Forms &amp; Tables</div><div class="it"><i class="c"></i><span>Form Elements</span></div><div class="it"><i class="d"></i><span>Form Layout</span></div><div class="it"><i class="p"></i><span>Text Editor</span></div><div class="it"><i class="g"></i><span>Table</span></div><div class="it act"><i class="d"></i><span>Datatable</span></div><div class="lab">Extra UI</div><div class="it"><i class="c"></i><span>Widgets</span></div><div class="it ch"><i class="c"></i><span>Icons</span></div><div class="it"><i class="h"></i><span>Apexcharts</span></div><div class="lab">Pages</div><div class="it"><i class="b"></i><span>Email Application</span></div><div class="it ch"><i class="d"></i><span>Authentication</span></div><div class="it ch"><i class="c"></i><span>Errors</span></div></div><div class="sbh" style="padding-top:0"><span class="tog" style="margin-top:0px"></span><span class="lgi" style="margin-top:0px"></span><span class="lgt" style="margin-top:0px"><b>Servo</b>Board</span></div></div></div>
</body></html>
